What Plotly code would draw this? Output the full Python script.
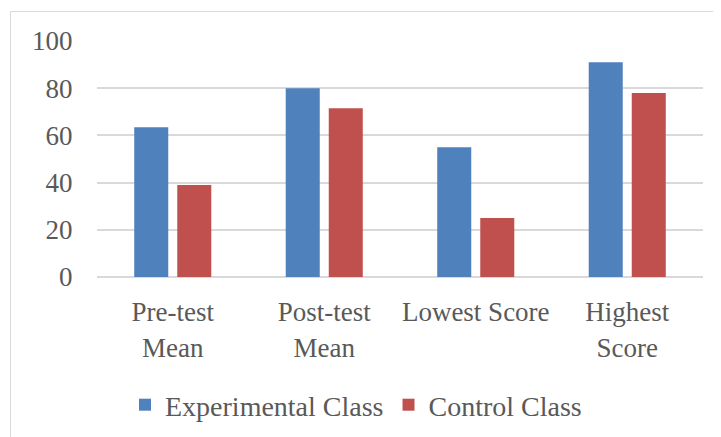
import plotly.graph_objects as go

categories = ["Pre-test<br>Mean", "Post-test<br>Mean", "Lowest Score", "Highest<br>Score"]
experimental = [63.5, 80, 55, 91]
control = [39, 71.5, 25, 78]
y_ticks = [0, 20, 40, 60, 80, 100]

FONT = "Liberation Serif"
TXT = "#595959"
FS = 27

fig = go.Figure()
fig.add_trace(go.Bar(name="Experimental Class", x=categories, y=experimental,
                     marker=dict(color="#4F81BD", line=dict(width=0))))
fig.add_trace(go.Bar(name="Control Class", x=categories, y=control,
                     marker=dict(color="#C0504D", line=dict(width=0))))

# page has an 8px body margin; figure coordinates are page coordinates minus 8
OFF = 8
W, H = 721 - OFF, 437 - OFF
L, T = 97 - OFF, 41 - OFF
R = W - (703 - OFF)
B = H - (277 - OFF)
pw, ph = W - L - R, H - T - B

def px_x(p):
    return (p - OFF - L) / pw

def px_y(p):
    return (H - B - (p - OFF)) / ph

fig.update_layout(
    width=W, height=H,
    margin=dict(l=L, r=R, t=T, b=B, autoexpand=False),
    paper_bgcolor="white", plot_bgcolor="white",
    font=dict(family=FONT, size=FS, color=TXT),
    barmode="group", bargap=0.432, bargroupgap=0.209,
    showlegend=True,
    legend=dict(orientation="h", xref="container", yref="container",
                x=(139 - OFF - 14) / W, xanchor="left", y=1 - (405 - OFF) / H, yanchor="middle",
                font=dict(family=FONT, size=28, color=TXT), traceorder="normal"),
    xaxis=dict(showgrid=False, showline=False, ticks="outside", ticklen=11,
               tickcolor="rgba(0,0,0,0)", tickfont=dict(size=FS), automargin=False),
    yaxis=dict(range=[0, 100], tickvals=y_ticks, showgrid=True, gridcolor="#D9D9D9",
               gridwidth=2, zeroline=True, zerolinecolor="#D9D9D9", zerolinewidth=2,
               ticks="outside", ticklen=18, tickcolor="rgba(0,0,0,0)",
               showline=False, tickfont=dict(size=FS), automargin=False),
    shapes=[dict(type="rect", xref="paper", yref="paper",
                 x0=px_x(10.5), x1=px_x(745), y0=px_y(460), y1=px_y(11.5),
                 line=dict(color="#D9D9D9", width=1), fillcolor="rgba(0,0,0,0)", layer="below")],
)

fig.write_html("out.html")
